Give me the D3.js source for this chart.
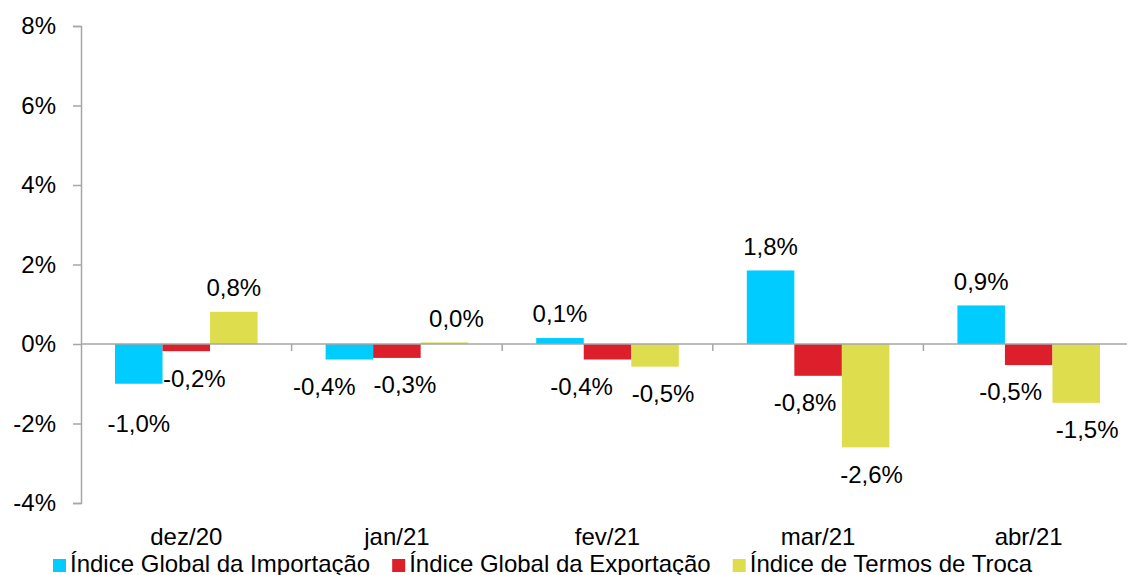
<!DOCTYPE html>
<html>
<head>
<meta charset="utf-8">
<script src="https://cdn.jsdelivr.net/npm/d3@7"></script>
<style>
  body { margin: 0; background: #fff; }
  text { font-family: "Liberation Sans", Arial, sans-serif; fill: #000; }
</style>
</head>
<body>
<svg id="chart" width="1127" height="575"></svg>
<script>
var months = ["dez/20", "jan/21", "fev/21", "mar/21", "abr/21"];
var seriesNames = ["Índice Global da Importação", "Índice Global da Exportação", "Índice de Termos de Troca"];
var importacao = [-1.0, -0.39, 0.15, 1.85, 0.97];
var exportacao = [-0.18, -0.35, -0.39, -0.8, -0.53];
var termos = [0.81, 0.04, -0.57, -2.6, -1.48];
var importLabels = ["-1,0%", "-0,4%", "0,1%", "1,8%", "0,9%"];
var exportLabels = ["-0,2%", "-0,3%", "-0,4%", "-0,8%", "-0,5%"];
var termosLabels = ["0,8%", "0,0%", "-0,5%", "-2,6%", "-1,5%"];
var yTicks = [-4, -2, 0, 2, 4, 6, 8];

var colors = ["#00ccff", "#dc1f2a", "#dddd4d"];

var svg = d3.select("#chart"),
    marginLeft = 81,
    plotTop = 26,
    plotBottom = 503;

var series = [importacao, exportacao, termos];
var labels = [importLabels, exportLabels, termosLabels];

var x0 = d3.scaleBand()
    .domain(months)
    .range([marginLeft, marginLeft + 5 * 210.6])
    .paddingInner(0.323)
    .paddingOuter(0.1615);

var x1 = d3.scaleBand()
    .domain([0, 1, 2])
    .range([0, x0.bandwidth()]);

var y = d3.scaleLinear()
    .domain([-4, 8])
    .range([plotBottom, plotTop]);

// label nudges (layout only), [series][month] -> [dx, dy]
var nudge = [
  [[0, 13], [-25, 0], [0, 0], [0, 0], [0, 0]],
  [[8, 0], [8, 0], [-26, 0], [-13, 0], [-18, 0]],
  [[0, 0], [12, 0], [8, 0], [6, 0], [11, 0]]
];

// y axis
var yAxis = d3.axisLeft(y)
    .tickValues(yTicks)
    .tickSize(8)
    .tickPadding(17)
    .tickFormat(function(d) { return d + "%"; });

var gy = svg.append("g")
    .attr("transform", "translate(" + marginLeft + ",0)")
    .call(yAxis);
gy.select(".domain").attr("stroke", "#a6a6a6").attr("stroke-width", 1.5);
gy.selectAll(".tick line").attr("stroke", "#a6a6a6").attr("stroke-width", 1.5);
gy.selectAll(".tick text")
    .style("font-family", "Liberation Sans, Arial, sans-serif")
    .style("font-size", "24px")
    .attr("fill", "#000");

// bars
months.forEach(function(m, i) {
  var g = svg.append("g")
      .attr("transform", "translate(" + x0(m) + ",0)");
  series.forEach(function(s, k) {
    var v = s[i];
    g.append("rect")
        .attr("x", x1(k))
        .attr("y", y(Math.max(0, v)))
        .attr("width", x1.bandwidth())
        .attr("height", Math.abs(y(v) - y(0)))
        .attr("fill", colors[k]);
  });
});

// zero line and category ticks
svg.append("line")
    .attr("x1", marginLeft).attr("x2", 1127)
    .attr("y1", y(0)).attr("y2", y(0))
    .attr("stroke", "#a6a6a6").attr("stroke-width", 1.5);

var step = x0.step();
d3.range(1, 6).forEach(function(j) {
  var xx = marginLeft + j * step;
  svg.append("line")
      .attr("x1", xx).attr("x2", xx)
      .attr("y1", y(0)).attr("y2", y(0) + 7)
      .attr("stroke", "#a6a6a6").attr("stroke-width", 1.5);
});

// data labels
months.forEach(function(m, i) {
  series.forEach(function(s, k) {
    var v = s[i];
    var cx = x0(m) + x1(k) + x1.bandwidth() / 2 + nudge[k][i][0];
    var cy = v >= 0 ? y(v) - 24 : y(v) + 27;
    cy += nudge[k][i][1];
    svg.append("text")
        .attr("x", cx)
        .attr("y", cy)
        .attr("dy", "0.35em")
        .attr("text-anchor", "middle")
        .style("font-size", "24px")
        .text(labels[k][i]);
  });
});

// category labels
svg.selectAll(".cat")
    .data(months)
    .enter().append("text")
    .attr("class", "cat")
    .attr("x", function(d) { return x0(d) + x0.bandwidth() / 2; })
    .attr("y", 545)
    .attr("text-anchor", "middle")
    .style("font-size", "24px")
    .text(function(d) { return d; });

// legend
var lx = 53;
seriesNames.forEach(function(name, k) {
  svg.append("rect")
      .attr("x", lx).attr("y", 559)
      .attr("width", 13).attr("height", 13)
      .attr("fill", colors[k]);
  var t = svg.append("text")
      .attr("x", lx + 17)
      .attr("y", 572)
      .style("font-size", "24px")
      .text(name);
  lx += 17 + t.node().getComputedTextLength() + 22;
});
</script>
</body>
</html>
